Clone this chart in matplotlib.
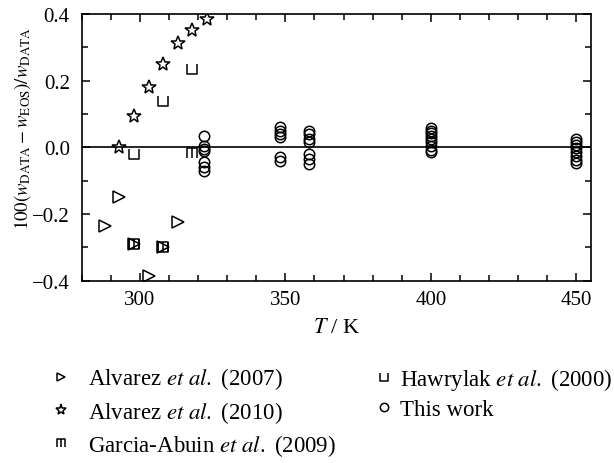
import numpy as np
import matplotlib
matplotlib.use("Agg")
import matplotlib.pyplot as plt
from matplotlib.path import Path
from matplotlib.ticker import MultipleLocator, FuncFormatter

plt.rcParams['font.family'] = ['Liberation Serif', 'DejaVu Serif']
plt.rcParams['mathtext.fontset'] = 'stix'
plt.rcParams['font.size'] = 15

# Alvarez et al. (2007)
t_alv07 = [288, 293, 298, 303, 308, 313]
d_alv07 = [-0.237, -0.15, -0.29, -0.385, -0.30, -0.225]

# Alvarez et al. (2010)
t_alv10 = [293, 298, 303, 308, 313, 318, 323]
d_alv10 = [0.0, 0.095, 0.18, 0.25, 0.312, 0.353, 0.385]

# Garcia-Abuin et al. (2009)
t_gar = [298, 308, 318]
d_gar = [-0.29, -0.30, -0.017]

# Hawrylak et al. (2000)
t_haw = [298, 308, 318, 298, 308]
d_haw = [-0.02, 0.14, 0.235, -0.29, -0.30]

# This work
t_this = [322]*7 + [348]*6 + [358]*7 + [400]*9 + [450]*8
d_this = [0.035, 0.005, -0.005, -0.01, -0.045, -0.06, -0.07,
          0.06, 0.05, 0.04, 0.03, -0.03, -0.04,
          0.05, 0.04, 0.025, 0.015, -0.02, -0.035, -0.05,
          0.057, 0.05, 0.043, 0.035, 0.025, 0.017, 0.005, -0.007, -0.015,
          0.025, 0.017, 0.007, -0.003, -0.013, -0.025, -0.037, -0.048]

# custom markers: open cup and a comb with a top bar
cup = Path([(-1, 1), (-1, -1), (1, -1), (1, 1)],
           [Path.MOVETO, Path.LINETO, Path.LINETO, Path.LINETO])
comb = Path([(-1, -1), (-1, 1), (1, 1), (1, -1), (0, 1), (0, -1)],
            [Path.MOVETO, Path.LINETO, Path.LINETO, Path.LINETO,
             Path.MOVETO, Path.LINETO])

fig = plt.figure(figsize=(6.14, 4.64), dpi=100)
ax = fig.add_axes([0.133, 0.393, 0.8295, 0.5748])

kw = dict(linestyle='none', mfc='none', mec='black', mew=1.1)
p1, = ax.plot(t_alv07, d_alv07, marker='>', ms=8, **kw)
p2, = ax.plot(t_alv10, d_alv10, marker='*', ms=10, **kw)
p3, = ax.plot(t_gar, d_gar, marker=comb, ms=7, **kw)
p4, = ax.plot(t_haw, d_haw, marker=cup, ms=7, **kw)
p5, = ax.plot(t_this, d_this, marker='o', ms=7.5, **kw)

ax.axhline(0, color='black', lw=1.2, zorder=0)

ax.set_xlim(280, 455)
ax.set_ylim(-0.4, 0.4)
ax.xaxis.set_major_locator(MultipleLocator(50))
ax.xaxis.set_minor_locator(MultipleLocator(10))
ax.yaxis.set_major_locator(MultipleLocator(0.2))
ax.yaxis.set_minor_locator(MultipleLocator(0.1))
ax.yaxis.set_major_formatter(FuncFormatter(lambda v, p: ('%.1f' % v).replace('-', '\u2212')))
ax.tick_params(which='both', direction='in', top=True, right=True, width=1.1)
ax.tick_params(which='major', length=6)
ax.tick_params(which='minor', length=4)
ax.tick_params(axis='x', pad=6.5)
ax.tick_params(axis='y', pad=8.5)
for s in ax.spines.values():
    s.set_linewidth(1.2)

ax.set_xlabel(r'$T$ / K', fontsize=16, labelpad=7)
ax.set_ylabel(r'$100(w_{\rm DATA} - w_{\rm EOS})/w_{\rm DATA}$', fontsize=13.5)
ax.yaxis.set_label_coords(-0.095, 0.575)

lkw = dict(frameon=False, loc='upper left', markerscale=0.8, fontsize=16.5,
           handlelength=1.0, labelspacing=0.32, borderpad=0, borderaxespad=0)
fig.legend([p1, p2, p3],
           [r'Alvarez $et\ al.$ (2007)', r'Alvarez $et\ al.$ (2010)',
            r'Garcia-Abuin $et\ al.$ (2009)'],
           bbox_to_anchor=(0.0799, 0.21), handletextpad=0.7, **lkw)
fig.legend([p4, p5],
           [r'Hawrylak $et\ al.$ (2000)', 'This work'],
           bbox_to_anchor=(0.6067, 0.21), handletextpad=0.2, **lkw)

fig.savefig('out.png', dpi=100)
